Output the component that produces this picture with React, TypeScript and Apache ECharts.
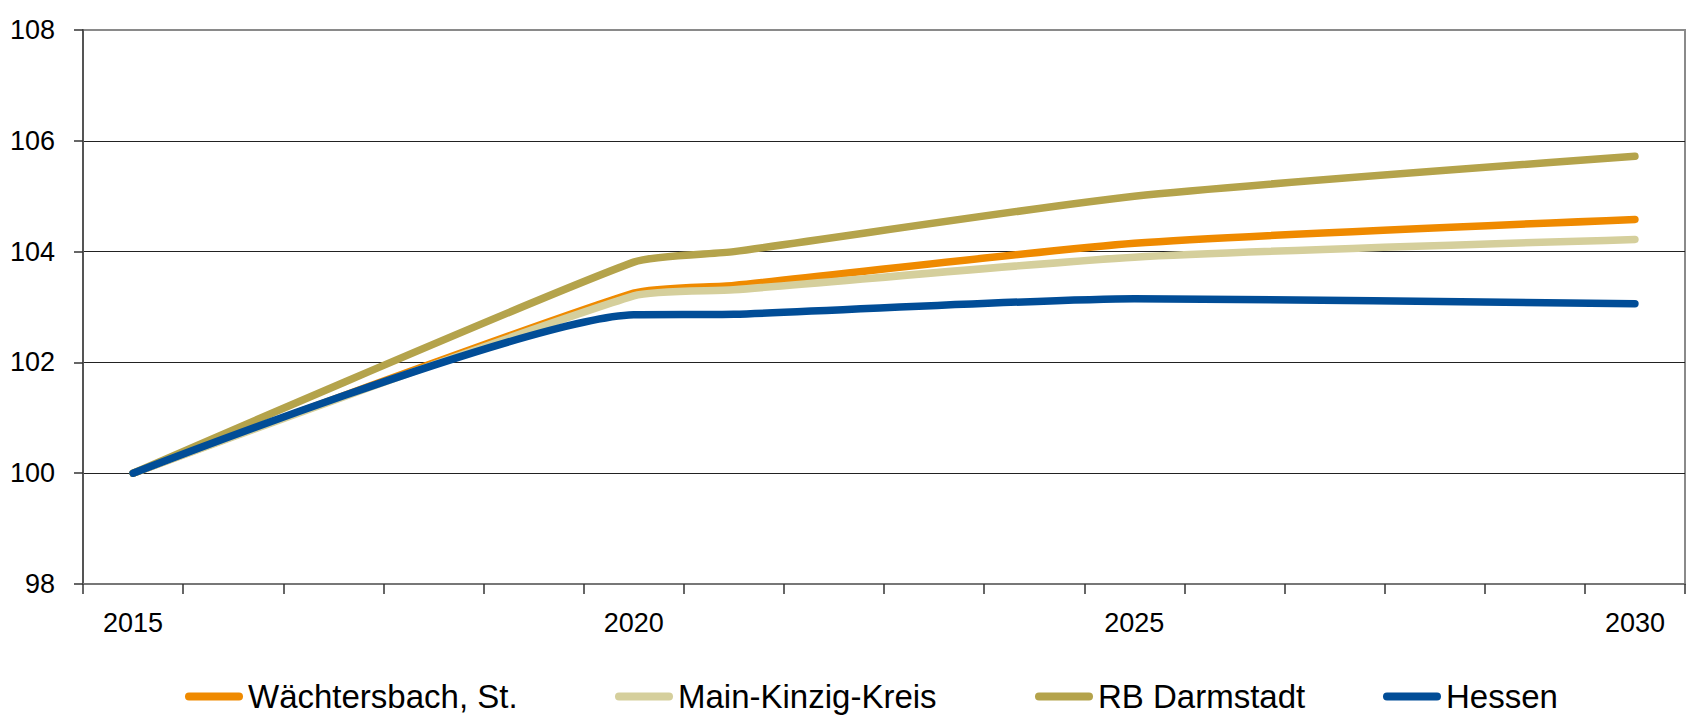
import React, { useEffect, useRef } from "react";
import * as echarts from "echarts";

const years = ["2015","2016","2017","2018","2019","2020","2021","2022","2023","2024","2025","2026","2027","2028","2029","2030"];
const waechtersbach = [100, null, null, null, null, 103.25, 103.39, null, null, null, 104.15, null, null, null, null, 104.58];
const mainKinzig = [100, null, null, null, null, 103.2, 103.31, null, null, null, 103.9, null, null, null, null, 104.22];
const rbDarmstadt = [100, null, null, null, null, 103.81, 104.0, null, null, null, 105.0, null, null, null, null, 105.72];
const hessen = [100, null, null, null, null, 102.86, 102.87, null, null, null, 103.15, null, null, null, null, 103.06];
const seriesNames = ["Wächtersbach, St.", "Main-Kinzig-Kreis", "RB Darmstadt", "Hessen"];
const seriesColors = ["#EF8A00", "#D5CF9C", "#B4A34B", "#014D97"];
const legendLefts = [185, 615, 1035, 1383];

const FONT = "'Liberation Sans', Arial, sans-serif";
const ICON = "path://M4,0 H54 A4,4 0 0 1 54,8 H4 A4,4 0 0 1 4,0 Z";

export default function App() {
  const ref = useRef<HTMLDivElement>(null);
  useEffect(() => {
    if (!ref.current) return;
    const chart = echarts.init(ref.current, null, { renderer: "svg" });
    const data = [waechtersbach, mainKinzig, rbDarmstadt, hessen];
    chart.setOption({
      animation: false,
      backgroundColor: "#ffffff",
      textStyle: { fontFamily: FONT },
      grid: {
        left: 83, right: 3, top: 30, bottom: 134,
        show: true, borderColor: "#8a8a8a", borderWidth: 2, backgroundColor: "transparent",
      },
      legend: seriesNames.map((n, i) => ({
        data: [n],
        left: legendLefts[i],
        top: 680,
        padding: 0,
        icon: ICON,
        itemWidth: 58,
        itemHeight: 8,
        itemGap: 0,
        textStyle: { fontFamily: FONT, fontSize: 33, color: "#000" },
      })),
      xAxis: {
        type: "category",
        data: years,
        boundaryGap: true,
        axisLine: { lineStyle: { color: "#777", width: 2 } },
        axisTick: { show: true, interval: 0, length: 10, lineStyle: { color: "#333", width: 1.5 } },
        axisLabel: {
          interval: (idx: number) => idx % 5 === 0,
          fontFamily: FONT, fontSize: 27, color: "#000", margin: 25,
        },
        splitLine: { show: false },
      },
      yAxis: {
        type: "value",
        min: 98, max: 108, interval: 2,
        axisLine: { show: true, lineStyle: { color: "#555", width: 2 } },
        axisTick: { show: true, length: 9, lineStyle: { color: "#333", width: 1.5 } },
        axisLabel: { fontFamily: FONT, fontSize: 27, color: "#000", margin: 28 },
        splitLine: { show: true, showMinLine: false, showMaxLine: false, lineStyle: { color: "#222", width: 1 } },
      },
      series: seriesNames.map((n, i) => ({
        name: n,
        type: "line",
        data: data[i],
        connectNulls: true,
        smooth: 0.2,
        symbol: "none",
        color: seriesColors[i],
        lineStyle: { color: seriesColors[i], width: 7.5, cap: "round", join: "round" },
      })),
    });
    return () => chart.dispose();
  }, []);
  return <div ref={ref} style={{ width: 1688, height: 718, position: "absolute", left: 0, top: 0 }} />;
}
